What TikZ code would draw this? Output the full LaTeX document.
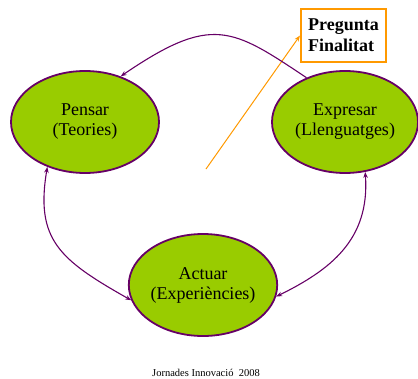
\documentclass[tikz,border=0pt]{standalone}
\usepackage{fontspec}
\setmainfont{Liberation Serif}
\usetikzlibrary{shapes.geometric,arrows.meta}
\definecolor{leaf}{RGB}{153,204,0}
\definecolor{plum}{RGB}{102,0,102}
\definecolor{amber}{RGB}{255,153,0}
\begin{document}
\begin{tikzpicture}[x=1pt,y=-1pt,
  idea/.style={ellipse,draw=plum,line width=1.8pt,fill=leaf,minimum width=148pt,minimum height=102pt,inner sep=0pt,align=center,font=\fontsize{18}{20}\selectfont},
  link/.style={plum,line width=1.1pt,-{Stealth[length=6pt,width=4.5pt]}}]
\useasboundingbox (0,0) rectangle (418,378);
% the three activities
\node[idea] (pensar) at (85,122) {Pensar\\(Teories)};
\node[idea,minimum width=146pt] (expresar) at (345,122) {Expresar\\(Llenguatges)};
\node[idea] (actuar) at (203,285) {Actuar\\(Experiències)};
% question box
\node[draw=amber,line width=2pt,fill=white,minimum width=85pt,minimum height=53pt,align=left,
  font=\fontsize{18}{21}\selectfont\bfseries] (pregunta) at (343.5,35.5) {Pregunta\\Finalitat};
\coordinate (pointer) at (206,169);
\draw[amber,line width=1pt,-{Stealth[length=6pt,width=4.5pt]}] (pointer) -- (pregunta.west);
% cycle
\draw[link] (expresar.131) .. controls (232,28) and (212,14) .. (pensar.52);
\draw[link,{Stealth[length=6pt,width=4.5pt]}-{Stealth[length=6pt,width=4.5pt]}] (pensar.230) .. controls (35,240) and (60,260) .. (actuar.192);
\draw[link,{Stealth[length=6pt,width=4.5pt]}-{Stealth[length=6pt,width=4.5pt]}] (expresar.292) .. controls (370,240) and (330,270) .. (actuar.351);
\node[font=\fontsize{10.5}{12}\selectfont,anchor=base] (footer) at (206,376) {Jornades Innovació\ \ 2008};
\end{tikzpicture}
\end{document}
